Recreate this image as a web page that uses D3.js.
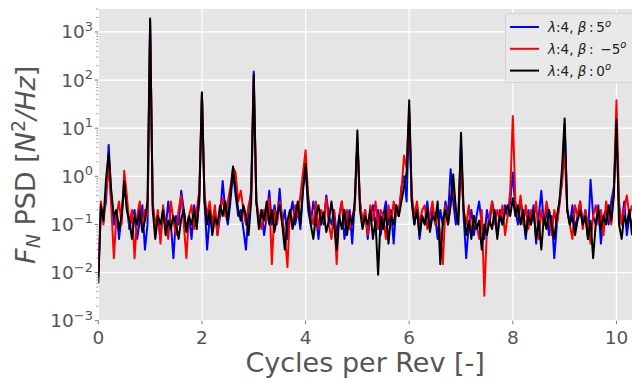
<!DOCTYPE html>
<html>
<head>
<meta charset="utf-8">
<script src="https://cdn.jsdelivr.net/npm/d3@7"></script>
<style>
  body { margin: 0; background: #fff; }
  text { font-family: "DejaVu Sans", sans-serif; }
</style>
</head>
<body>
<div id="chart"></div>
<script>
// frequency step of the PSD samples (cycles per rev)
var step = 0.05;

var blue = [
  0.008, 0.2, 0.15, 0.3, 4.5, 0.4, 0.1, 0.2, 0.05, 0.15,
  0.6, 0.25, 0.08, 0.15, 0.2, 0.05, 0.12, 0.25, 0.03, 0.1,
  1800, 0.25, 0.1, 0.15, 0.05, 0.2, 0.08, 0.3, 0.1, 0.02,
  0.15, 0.1, 0.5, 0.2, 0.08, 0.15, 0.05, 0.25, 0.1, 0.3,
  55, 0.3, 0.03, 0.15, 0.1, 0.2, 0.06, 0.15, 0.8, 0.2,
  0.1, 0.3, 1.2, 0.4, 0.15, 0.2, 0.08, 0.03, 0.2, 0.5,
  150, 0.3, 0.1, 0.2, 0.06, 0.15, 0.5, 0.1, 0.25, 0.12,
  0.55, 0.1, 0.2, 0.05, 0.15, 0.3, 0.1, 0.2, 0.08, 0.6,
  1.5, 0.2, 0.1, 0.3, 0.15, 0.05, 0.2, 0.1, 0.4, 0.15,
  0.1, 0.2, 0.06, 0.15, 0.3, 0.05, 0.12, 0.2, 0.04, 0.3,
  5, 0.3, 0.1, 0.2, 0.05, 0.15, 0.25, 0.1, 0.2, 0.06,
  0.15, 0.3, 0.1, 0.2, 0.04, 0.25, 0.15, 0.6, 1.0, 0.3,
  20, 0.3, 0.1, 0.25, 0.05, 0.15, 0.1, 0.3, 0.08, 0.2,
  0.15, 0.05, 0.2, 0.1, 0.3, 0.15, 1.4, 0.3, 0.1, 0.2,
  5, 0.15, 0.02, 0.1, 0.2, 0.06, 0.15, 0.3, 0.1, 0.05,
  0.2, 0.1, 0.3, 0.15, 0.06, 0.2, 0.1, 0.25, 0.15, 0.3,
  1.2, 0.2, 0.1, 0.3, 0.15, 0.05, 0.2, 0.1, 0.25, 0.04,
  0.15, 0.5, 0.1, 0.2, 0.06, 0.15, 0.02, 0.1, 0.3, 0.8,
  12, 0.2, 0.1, 0.25, 0.08, 0.15, 0.3, 0.1, 0.2, 0.05,
  0.85, 0.15, 0.1, 0.25, 0.04, 0.15, 0.2, 0.1, 0.3, 0.6,
  10, 0.2, 0.1, 0.3, 0.06, 0.15, 0.1
];

var red = [
  0.01, 0.3, 0.1, 0.5, 1.5, 0.25, 0.02, 0.15, 0.3, 0.1,
  1.3, 0.4, 0.1, 0.2, 0.02, 0.15, 0.3, 0.08, 0.2, 0.15,
  1300, 0.3, 0.08, 0.2, 0.04, 0.25, 0.1, 0.05, 0.3, 0.12,
  0.06, 0.2, 0.4, 0.1, 0.02, 0.15, 0.25, 0.08, 0.2, 0.5,
  50, 0.4, 0.15, 0.3, 0.1, 0.25, 0.06, 0.2, 0.35, 0.15,
  0.3, 0.6, 1.5, 1.2, 0.3, 0.5, 0.2, 0.1, 0.25, 0.4,
  100, 0.3, 0.15, 0.08, 0.2, 0.12, 0.35, 0.015, 0.2, 0.1,
  0.3, 0.15, 0.06, 0.013, 0.2, 0.1, 0.25, 0.15, 0.4, 1.2,
  3.5, 0.4, 0.15, 0.1, 0.3, 0.08, 0.2, 0.12, 0.35, 0.1,
  0.05, 0.2, 0.015, 0.15, 0.3, 0.1, 0.2, 0.08, 0.15, 0.2,
  6, 0.3, 0.1, 0.2, 0.06, 0.25, 0.12, 0.3, 0.08, 0.2,
  0.15, 0.05, 0.25, 0.1, 0.3, 0.15, 0.2, 0.5, 2.7, 1.5,
  25, 0.4, 0.15, 0.3, 0.1, 0.2, 0.25, 0.08, 0.15, 0.3,
  0.1, 0.2, 0.06, 0.015, 0.25, 0.1, 0.3, 0.7, 0.2, 0.15,
  1.5, 0.2, 0.1, 0.25, 0.06, 0.15, 0.1, 0.05, 0.2, 0.0033,
  0.08, 0.15, 0.3, 0.1, 0.2, 0.12, 0.25, 0.06, 0.15, 0.5,
  18, 0.3, 0.15, 0.4, 0.1, 0.25, 0.08, 0.2, 0.12, 0.3,
  0.05, 0.2, 0.1, 0.3, 0.15, 0.06, 0.2, 0.1, 0.25, 0.8,
  3, 0.2, 0.1, 0.05, 0.25, 0.15, 0.3, 0.08, 0.2, 0.1,
  0.04, 0.15, 0.25, 0.1, 0.2, 0.06, 0.3, 0.15, 0.1, 0.5,
  38, 0.3, 0.1, 0.2, 0.4, 0.15, 0.25
];

var black = [
  0.006, 0.25, 0.12, 0.9, 3.0, 0.5, 0.15, 0.2, 0.08, 0.15,
  0.8, 0.2, 0.12, 0.05, 0.15, 0.1, 0.2, 0.07, 0.12, 0.3,
  1900, 0.2, 0.05, 0.15, 0.1, 0.2, 0.06, 0.12, 0.08, 0.15,
  0.1, 0.05, 0.13, 0.2, 0.07, 0.15, 0.1, 0.2, 0.08, 0.4,
  55, 0.3, 0.1, 0.2, 0.06, 0.14, 0.1, 0.25, 0.15, 0.3,
  0.12, 0.4, 1.6, 0.5, 0.2, 0.12, 0.25, 0.15, 0.06, 0.3,
  130, 0.3, 0.08, 0.2, 0.12, 0.3, 0.1, 0.2, 0.07, 0.15,
  0.25, 0.1, 0.03, 0.12, 0.2, 0.08, 0.15, 0.3, 0.1, 0.5,
  1.8, 0.3, 0.1, 0.05, 0.15, 0.25, 0.1, 0.18, 0.07, 0.12,
  0.3, 0.1, 0.03, 0.15, 0.08, 0.2, 0.06, 0.15, 0.1, 0.3,
  9, 0.2, 0.08, 0.15, 0.1, 0.2, 0.05, 0.12, 0.009, 0.15,
  0.08, 0.2, 0.04, 0.15, 0.1, 0.25, 0.15, 0.3, 0.6, 1.2,
  38, 0.3, 0.1, 0.2, 0.06, 0.15, 0.1, 0.2, 0.07, 0.15,
  0.12, 0.3, 0.015, 0.12, 0.2, 0.1, 0.25, 1.1, 0.2, 0.1,
  8, 0.2, 0.06, 0.12, 0.05, 0.15, 0.08, 0.12, 0.03, 0.1,
  0.06, 0.12, 0.08, 0.2, 0.05, 0.15, 0.1, 0.18, 0.25, 0.15,
  0.35, 0.15, 0.25, 0.1, 0.2, 0.06, 0.15, 0.1, 0.2, 0.05,
  0.12, 0.03, 0.15, 0.08, 0.2, 0.1, 0.05, 0.15, 0.3, 1.5,
  16, 0.2, 0.1, 0.15, 0.06, 0.12, 0.2, 0.1, 0.15, 0.05,
  0.12, 0.02, 0.1, 0.2, 0.08, 0.15, 0.1, 0.25, 0.12, 0.4,
  15, 0.1, 0.05, 0.15, 0.1, 0.2, 0.06
];

var xTicks = [0, 2, 4, 6, 8, 10];
var yTicks = [-3, -2, -1, 0, 1, 2, 3];

var series = [
  { beta: "5", values: blue, color: "#0000ff" },
  { beta: "\u22125", values: red, color: "#ff0000" },
  { beta: "0", values: black, color: "#000000" }
];

var width = 632,
    height = 379;

var svg = d3.select("#chart")
    .append("svg")
    .attr("width", width)
    .attr("height", height);

var pLeft = 98.3, pRight = 632, pTop = 9, pBottom = 320.7;

var x = d3.scaleLinear().domain([0, 10.3]).range([pLeft, pRight]);
var y = d3.scaleLog().domain([1e-3, 3000]).range([pBottom, pTop]);

svg.append("rect")
    .attr("x", pLeft).attr("y", pTop)
    .attr("width", pRight - pLeft).attr("height", pBottom - pTop)
    .attr("fill", "#e5e5e5");

svg.append("clipPath").attr("id", "clip")
  .append("rect")
    .attr("x", pLeft).attr("y", pTop)
    .attr("width", pRight - pLeft).attr("height", pBottom - pTop);

// grid
svg.append("g")
    .selectAll("line")
    .data(xTicks)
    .enter().append("line")
    .attr("x1", function(d){ return x(d); })
    .attr("x2", function(d){ return x(d); })
    .attr("y1", pTop).attr("y2", pBottom)
    .style("stroke", "white").style("stroke-width", 1.3);

svg.append("g")
    .selectAll("line")
    .data(yTicks)
    .enter().append("line")
    .attr("x1", pLeft).attr("x2", pRight)
    .attr("y1", function(d){ return y(Math.pow(10, d)); })
    .attr("y2", function(d){ return y(Math.pow(10, d)); })
    .style("stroke", "white").style("stroke-width", 1.3);

// minor y ticks
var minor = [];
yTicks.forEach(function(e){
    var top_m = e == 3 ? 3 : 9;
    for (var m = 2; m <= top_m; m++) minor.push(m * Math.pow(10, e));
});
svg.append("g")
    .selectAll("line")
    .data(minor)
    .enter().append("line")
    .attr("x1", pLeft - 2).attr("x2", pLeft)
    .attr("y1", function(d){ return y(d); })
    .attr("y2", function(d){ return y(d); })
    .style("stroke", "#555").style("stroke-width", 0.6);

svg.append("g")
    .selectAll("line")
    .data(yTicks)
    .enter().append("line")
    .attr("x1", pLeft - 3.5).attr("x2", pLeft)
    .attr("y1", function(d){ return y(Math.pow(10, d)); })
    .attr("y2", function(d){ return y(Math.pow(10, d)); })
    .style("stroke", "#555").style("stroke-width", 0.8);

svg.append("g")
    .selectAll("line")
    .data(xTicks)
    .enter().append("line")
    .attr("x1", function(d){ return x(d); })
    .attr("x2", function(d){ return x(d); })
    .attr("y1", pBottom).attr("y2", pBottom + 3.5)
    .style("stroke", "#555").style("stroke-width", 0.8);

// tick labels
svg.append("g")
    .selectAll("text")
    .data(xTicks)
    .enter().append("text")
    .attr("x", function(d){ return x(d); })
    .attr("y", 344)
    .attr("text-anchor", "middle")
    .style("font-size", "18.5px")
    .style("fill", "#555")
    .text(function(d){ return d; });

var yl = svg.append("g")
    .selectAll("text")
    .data(yTicks)
    .enter().append("text")
    .attr("x", 93)
    .attr("y", function(d){ return y(Math.pow(10, d)) + 6.5; })
    .attr("text-anchor", "end")
    .style("font-size", "18.5px")
    .style("fill", "#555");
yl.append("tspan").text("10");
yl.append("tspan")
    .attr("dy", -7.5)
    .style("font-size", "13px")
    .text(function(d){ return d < 0 ? "\u2212" + (-d) : d; });

// lines
var line = d3.line()
    .x(function(d, i){ return x(i * step); })
    .y(function(d){ return y(d); });

svg.append("g")
    .attr("clip-path", "url(#clip)")
    .selectAll("path")
    .data(series)
    .enter().append("path")
    .attr("d", function(d){ return line(d.values); })
    .style("fill", "none")
    .style("stroke", function(d){ return d.color; })
    .style("stroke-width", 2)
    .style("stroke-linejoin", "round");

// axis labels
svg.append("text")
    .attr("x", (pLeft + pRight) / 2)
    .attr("y", 372)
    .attr("text-anchor", "middle")
    .style("font-size", "27px")
    .style("fill", "#555")
    .text("Cycles per Rev [-]");

var ylab = svg.append("text")
    .attr("transform", "translate(35," + ((pTop + pBottom) / 2) + ") rotate(-90)")
    .attr("text-anchor", "middle")
    .style("font-size", "27px")
    .style("fill", "#555");
ylab.append("tspan").style("font-style", "italic").text("F");
ylab.append("tspan").attr("dy", 5).style("font-size", "19px").style("font-style", "italic").text("N");
ylab.append("tspan").attr("dy", -5).text(" PSD [");
ylab.append("tspan").style("font-style", "italic").text("N");
ylab.append("tspan").attr("dy", -10).style("font-size", "19px").text("2");
ylab.append("tspan").attr("dy", 10).style("font-style", "italic").text("/Hz");
ylab.append("tspan").text("]");

// legend
var lg = svg.append("g");
lg.append("rect")
    .attr("x", 505.5).attr("y", 13.5)
    .attr("width", 140).attr("height", 69)
    .attr("rx", 2)
    .attr("fill", "#e9e9e9")
    .attr("stroke", "#d2d2d2")
    .attr("stroke-width", 1);

var items = lg.selectAll("g.item")
    .data(series)
    .enter().append("g")
    .attr("transform", function(d, i){ return "translate(0," + (27 + i * 21.8) + ")"; });

items.append("line")
    .attr("x1", 510).attr("x2", 539)
    .attr("y1", 0).attr("y2", 0)
    .style("stroke", function(d){ return d.color; })
    .style("stroke-width", 2);

var lt = items.append("text")
    .attr("x", 548).attr("y", 5)
    .style("font-size", "13.5px")
    .style("fill", "#222");
lt.append("tspan").style("font-style", "italic").text("\u03bb");
lt.append("tspan").text(":4, ");
lt.append("tspan").style("font-style", "italic").text("\u03b2");
lt.append("tspan").text(function(d){
    return d.beta.charAt(0) == "\u2212" ? "\u2009:\u2002" + d.beta : "\u2009:\u2009" + d.beta;
});
lt.append("tspan").attr("dy", -5.5).style("font-size", "10px").style("font-style", "italic").text("o");
</script>
</body>
</html>
